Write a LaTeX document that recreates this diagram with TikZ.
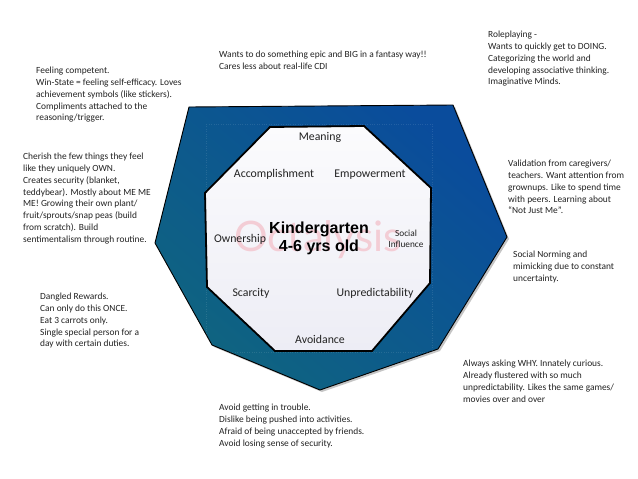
\documentclass[tikz,border=0pt]{standalone}
\usepackage{fontspec}
\setmainfont{Carlito}
\newfontfamily\kfont{Liberation Sans}
\newfontfamily\wfont{Lato}
\usetikzlibrary{shadows}
\definecolor{outerA}{HTML}{0A4C9C}
\definecolor{outerB}{HTML}{0F6480}
\definecolor{innerA}{HTML}{FBFBFD}
\definecolor{innerB}{HTML}{EDEDF5}
\definecolor{txt}{HTML}{222222}
\definecolor{wmark}{HTML}{F3CDD5}
\tikzset{
  note/.style={align=left, anchor=north west, inner sep=0pt, font=\fontsize{9.4}{11.8}\selectfont, text=txt},
  lbl/.style={inner sep=0pt, font=\fontsize{11.8}{13}\selectfont, text=txt},
}
\begin{document}
\begin{tikzpicture}[x=1pt,y=-1pt]
\useasboundingbox (0,0) rectangle (638,479);
\fill[white] (0,0) rectangle (638,479);
% outer heptagon
\path[draw=black, line width=0.9pt, shading=axis, top color=outerA, bottom color=outerB, shading angle=-40,
  drop shadow={shadow xshift=2pt, shadow yshift=-2pt, opacity=0.45}]
  (189,107) coordinate (o1) -- (453,105) coordinate (o2) -- (507,237) coordinate (o3)
  -- (438,349) coordinate (o4) -- (320,390) coordinate (o5) -- (212,345) coordinate (o6)
  -- (155,243) coordinate (o7) -- cycle;
% faint dotted guides
\draw[white, opacity=0.1, dotted, line width=0.4pt] (206,124) rectangle (432,352);
% inner octagon
\path[draw=black, line width=1.8pt, top color=innerA, bottom color=innerB]
  (270,127) -- (364,126) -- (431,188) -- (430,283) -- (372,351) -- (275,351) -- (207,287) -- (205,193) -- cycle;
% watermark
\node[inner sep=0pt, text=wmark, font=\wfont\fontsize{42}{44}\selectfont] (wm) at (318,240) {Octalysis};
% labels
\node[lbl] (meaning) at (320,137) {Meaning};
\node[lbl] (accomp) at (274,174) {Accomplishment};
\node[lbl] (empow) at (370,175) {Empowerment};
\node[lbl] (owner) at (240,239) {Ownership};
\node[lbl, align=center, font=\fontsize{9.3}{11}\selectfont] (social) at (406,239) {Social\\Influence};
\node[lbl] (scar) at (251,293) {Scarcity};
\node[lbl] (unpred) at (375,293) {Unpredictability};
\node[lbl] (avoid) at (320,339) {Avoidance};
\node[inner sep=0pt, align=center, font=\kfont\bfseries\fontsize{16}{18}\selectfont, text=black] (title) at (319,238) {Kindergarten\\4-6 yrs old};
% notes
\node[note] (n1) at (36,67) {Feeling competent.\\Win-State = feeling self-efficacy. Loves\\achievement symbols (like stickers).\\Compliments attached to the\\reasoning/trigger.};
\node[note] (n2) at (23,153) {Cherish the few things they feel\\like they uniquely OWN.\\Creates security (blanket,\\teddybear). Mostly about ME ME\\ME! Growing their own plant/\\fruit/sprouts/snap peas (build\\from scratch). Build\\sentimentalism through routine.};
\node[note] (n3) at (40,293) {Dangled Rewards.\\Can only do this ONCE.\\Eat 3 carrots only.\\Single special person for a\\day with certain duties.};
\node[note] (n4) at (219,51) {Wants to do something epic and BIG in a fantasy way!!\\Cares less about real-life CDI};
\node[note] (n5) at (488,31) {Roleplaying -\\Wants to quickly get to DOING.\\Categorizing the world and\\developing associative thinking.\\Imaginative Minds.};
\node[note] (n6) at (508,160) {Validation from caregivers/\\teachers. Want attention from\\grownups. Like to spend time\\with peers. Learning about\\``Not Just Me''.};
\node[note] (n7) at (513,251) {Social Norming and\\mimicking due to constant\\uncertainty.};
\node[note] (n8) at (463,360) {Always asking WHY. Innately curious.\\Already flustered with so much\\unpredictability. Likes the same games/\\movies over and over};
\node[note] (n9) at (219,404) {Avoid getting in trouble.\\Dislike being pushed into activities.\\Afraid of being unaccepted by friends.\\Avoid losing sense of security.};
\end{tikzpicture}
\end{document}
